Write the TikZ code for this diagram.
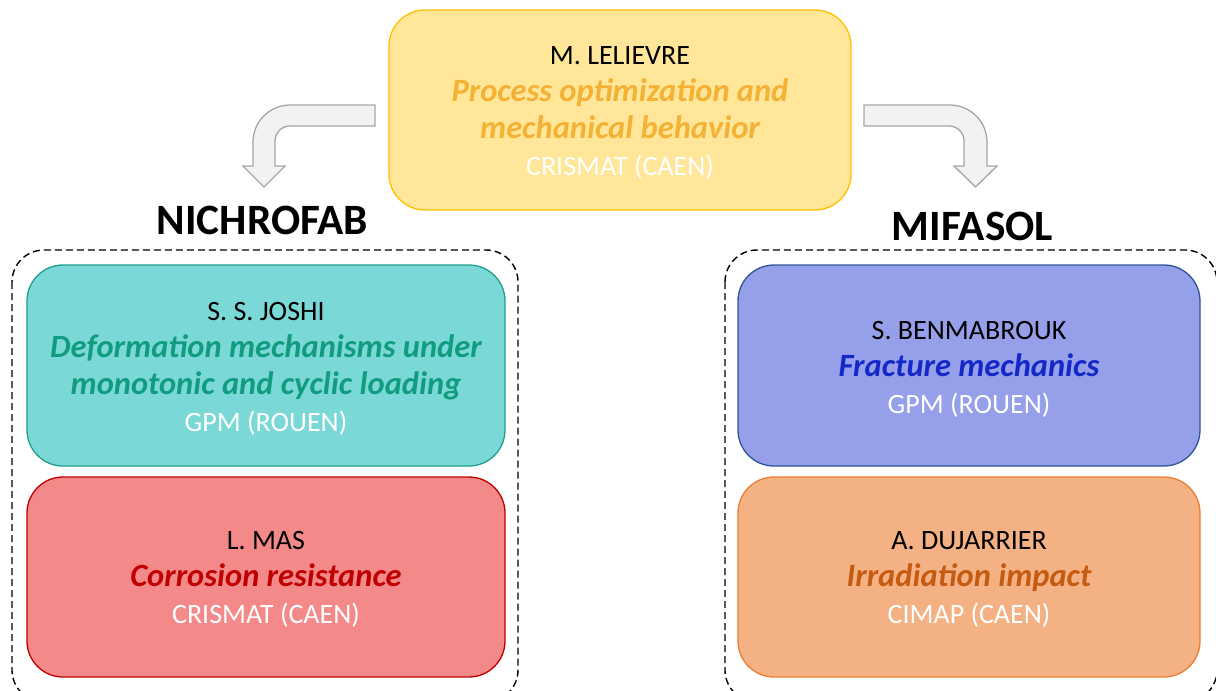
\documentclass[tikz,border=0pt]{standalone}
\usepackage{fontspec}
\setmainfont{Carlito}
\definecolor{yfill}{HTML}{FFE699}
\definecolor{ydraw}{HTML}{FFC000}
\definecolor{ytext}{HTML}{F4B133}
\definecolor{tfill}{HTML}{7AD9D6}
\definecolor{tdraw}{HTML}{1FA08C}
\definecolor{ttext}{HTML}{119C80}
\definecolor{rfill}{HTML}{F4898A}
\definecolor{rdraw}{HTML}{C00000}
\definecolor{rtext}{HTML}{C00000}
\definecolor{bfill}{HTML}{959FEA}
\definecolor{bdraw}{HTML}{2F5597}
\definecolor{btext}{HTML}{1428C8}
\definecolor{ofill}{HTML}{F4B183}
\definecolor{odraw}{HTML}{ED7D31}
\definecolor{otext}{HTML}{C55A11}
\definecolor{afill}{HTML}{F2F2F2}
\definecolor{adraw}{HTML}{A6A6A6}
\newcommand{\topic}[2]{{\fontsize{32.5}{37}\selectfont\bfseries\itshape\color{#1}#2}}
\newcommand{\lab}[1]{{\color{white}#1}}
\begin{document}
\begin{tikzpicture}[x=1pt,y=-1pt,
  card/.style={rounded corners=36pt, line width=1.3pt, inner sep=0pt},
  cardtext/.style={align=center, font=\fontsize{28}{37}\selectfont, text=black, inner sep=0pt},
  group/.style={draw=black, dashed, dash pattern=on 7pt off 4pt, line width=1.4pt, rounded corners=32pt},
  title/.style={font=\fontsize{43.3}{46}\selectfont\bfseries, anchor=base, inner sep=0pt},
  blockarrow/.style={fill=afill, draw=adraw, line width=1.3pt, line join=miter}]
\useasboundingbox (0,0) rectangle (1216,691);

% groups
\draw[group] (12,250) rectangle (518,702);
\draw[group] (725,250) rectangle (1217,702);

% top card
\node[card, fill=yfill, draw=ydraw, minimum width=462pt, minimum height=200pt] (lelievre) at (620,110) {};
\node[cardtext] (lelievre-t) at ([yshift=-3pt]lelievre.center)
  {M. LELIEVRE\\ \topic{ytext}{Process optimization and}\\ \topic{ytext}{mechanical behavior}\\ \lab{CRISMAT (CAEN)}};

% left group
\node[title] (nichrofab) at (262.5,234) {NICHROFAB};
\node[card, fill=tfill, draw=tdraw, minimum width=478pt, minimum height=201pt] (joshi) at (266,365.5) {};
\node[cardtext] (joshi-t) at ([yshift=-3.5pt]joshi.center)
  {S. S. JOSHI\\ \topic{ttext}{Deformation mechanisms under}\\ \topic{ttext}{monotonic and cyclic loading}\\ \lab{GPM (ROUEN)}};
\node[card, fill=rfill, draw=rdraw, minimum width=478pt, minimum height=200pt] (mas) at (266,577) {};
\node[cardtext] (mas-t) at ([yshift=-2.5pt]mas.center)
  {L. MAS\\ \topic{rtext}{Corrosion resistance}\\ \lab{CRISMAT (CAEN)}};

% right group
\node[title] (mifasol) at (972.5,240) {MIFASOL};
\node[card, fill=bfill, draw=bdraw, minimum width=462pt, minimum height=201pt] (benmabrouk) at (969,365.5) {};
\node[cardtext] (benmabrouk-t) at ([yshift=-3.5pt]benmabrouk.center)
  {S. BENMABROUK\\ \topic{btext}{Fracture mechanics}\\ \lab{GPM (ROUEN)}};
\node[card, fill=ofill, draw=odraw, minimum width=462pt, minimum height=200pt] (dujarrier) at (969,577) {};
\node[cardtext] (dujarrier-t) at ([yshift=-2.5pt]dujarrier.center)
  {A. DUJARRIER\\ \topic{otext}{Irradiation impact}\\ \lab{CIMAP (CAEN)}};

% block arrows
\draw[blockarrow] (375,105) -- (290,105) .. controls (269.6,105) and (253,121.6) .. (253,142)
  -- (253,166) -- (243,166) -- (264,187) -- (285,166) -- (275,166) -- (275,141)
  .. controls (275,132.7) and (281.7,126) .. (290,126) -- (375,126) -- cycle;
\draw[blockarrow] (864,105) -- (950,105) .. controls (970.4,105) and (987,121.6) .. (987,142)
  -- (987,166) -- (997,166) -- (975.5,187) -- (954,166) -- (964,166) -- (964,141)
  .. controls (964,132.7) and (957.3,126) .. (949,126) -- (864,126) -- cycle;
\end{tikzpicture}
\end{document}
